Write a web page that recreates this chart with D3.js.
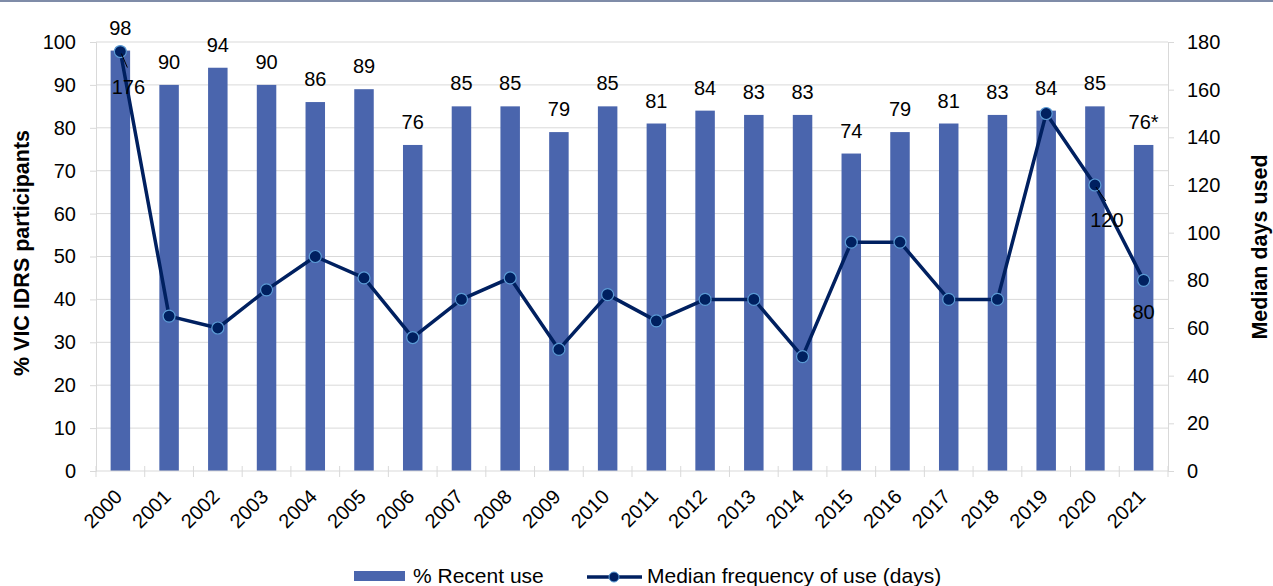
<!DOCTYPE html>
<html>
<head>
<meta charset="utf-8">
<script src="https://cdn.jsdelivr.net/npm/d3@7/dist/d3.min.js"></script>
<style>
  body { margin: 0; background: #fff; }
  svg { display: block; font-family: "Liberation Sans", Arial, sans-serif; }
</style>
</head>
<body>
<svg id="chart" width="1273" height="586"></svg>
<script>
var years = ["2000", "2001", "2002", "2003", "2004", "2005", "2006", "2007", "2008", "2009", "2010",
             "2011", "2012", "2013", "2014", "2015", "2016", "2017", "2018", "2019", "2020", "2021"];
var recentUse = [98, 90, 94, 90, 86, 89, 76, 85, 85, 79, 85, 81, 84, 83, 83, 74, 79, 81, 83, 84, 85, 76];
var medianDays = [176, 65, 60, 76, 90, 81, 56, 72, 81, 51, 74, 63, 72, 72, 48, 96, 96, 72, 72, 150, 120, 80];
var starredYears = ["2021"];
var labelledDays = ["2000", "2020", "2021"];
var leftTicks = [0, 10, 20, 30, 40, 50, 60, 70, 80, 90, 100];
var rightTicks = [0, 20, 40, 60, 80, 100, 120, 140, 160, 180];
var seriesNames = ["% Recent use", "Median frequency of use (days)"];

var barColor = "#4a65ad",
    lineColor = "#002060",
    markerEdge = "#5b9bd5",
    gridColor = "#d9d9d9";

var svg = d3.select("#chart");
var plotLeft = 96, plotRight = 1168, plotTop = 42, plotBottom = 471;

var x = d3.scaleBand().domain(years).range([plotLeft, plotRight]).paddingInner(0.6).paddingOuter(0.3);
var yL = d3.scaleLinear().domain([0, 100]).range([plotBottom, plotTop]);
var yR = d3.scaleLinear().domain([0, 180]).range([plotBottom, plotTop]);

function cx(d) { return x(d) + x.bandwidth() / 2; }

// top border
svg.append("rect").attr("x", 0).attr("y", 0).attr("width", 1273).attr("height", 2).attr("fill", "#7f8ca8");

// gridlines
svg.append("g").selectAll("line").data(leftTicks.slice(1)).enter().append("line")
    .attr("x1", plotLeft).attr("x2", plotRight)
    .attr("y1", function(d) { return yL(d); }).attr("y2", function(d) { return yL(d); })
    .attr("stroke", gridColor).attr("stroke-width", 1);

// left axis
var gl = svg.append("g").attr("transform", "translate(" + plotLeft + ",0)")
    .call(d3.axisLeft(yL).tickValues(leftTicks).tickSize(6).tickPadding(14));
gl.select(".domain").attr("stroke", gridColor);
gl.selectAll(".tick line").attr("stroke", gridColor);
gl.selectAll(".tick text").attr("font-size", 20).attr("fill", "#000");

// right axis
var gr = svg.append("g").attr("transform", "translate(" + plotRight + ",0)")
    .call(d3.axisRight(yR).tickValues(rightTicks).tickSize(6).tickPadding(13));
gr.select(".domain").attr("stroke", gridColor);
gr.selectAll(".tick line").attr("stroke", gridColor);
gr.selectAll(".tick text").attr("font-size", 20).attr("fill", "#000");

// bars
svg.append("g").selectAll("rect").data(years).enter().append("rect")
    .attr("x", function(d) { return x(d); })
    .attr("width", x.bandwidth())
    .attr("y", function(d, i) { return yL(recentUse[i]); })
    .attr("height", function(d, i) { return plotBottom - yL(recentUse[i]); })
    .attr("fill", barColor);

// category axis
svg.append("line").attr("x1", plotLeft).attr("x2", plotRight).attr("y1", plotBottom).attr("y2", plotBottom)
    .attr("stroke", gridColor);
var step = x.step();
svg.append("g").selectAll("line").data(d3.range(years.length + 1)).enter().append("line")
    .attr("x1", function(i) { return plotLeft + i * step; })
    .attr("x2", function(i) { return plotLeft + i * step; })
    .attr("y1", plotBottom - 5).attr("y2", plotBottom + 6)
    .attr("stroke", gridColor);
svg.append("g").selectAll("text").data(years).enter().append("text")
    .attr("transform", function(d) {
        return "translate(" + (cx(d) + 3) + "," + (plotBottom + 27) + ") rotate(-45)";
    })
    .attr("text-anchor", "end")
    .attr("font-size", 20)
    .text(function(d) { return d; });

// bar labels
svg.append("g").selectAll("text").data(years).enter().append("text")
    .attr("x", cx)
    .attr("y", function(d, i) { return yL(recentUse[i]) - 16; })
    .attr("text-anchor", "middle")
    .attr("font-size", 20)
    .text(function(d, i) { return recentUse[i] + (starredYears.indexOf(d) >= 0 ? "*" : ""); });

// line
var line = d3.line()
    .x(function(d, i) { return cx(years[i]); })
    .y(function(d) { return yR(d); });
svg.append("path").datum(medianDays)
    .attr("d", line)
    .attr("fill", "none")
    .attr("stroke", lineColor)
    .attr("stroke-width", 3.5)
    .attr("stroke-linejoin", "round");

svg.append("g").selectAll("circle").data(medianDays).enter().append("circle")
    .attr("cx", function(d, i) { return cx(years[i]); })
    .attr("cy", function(d) { return yR(d); })
    .attr("r", 6)
    .attr("fill", lineColor)
    .attr("stroke", markerEdge)
    .attr("stroke-width", 1.2);

// line labels (offset from the marker, with a leader line for the first two)
var labelOffset = {"2000": [8, 42, true], "2020": [12, 42, true], "2021": [0, 39, false]};
labelledDays.forEach(function(yr) {
    var i = years.indexOf(yr),
        px = cx(yr),
        py = yR(medianDays[i]),
        off = labelOffset[yr];
    if (off[2]) {
        svg.append("line")
            .attr("x1", px + 1).attr("y1", py + 2)
            .attr("x2", px + off[0] - 1).attr("y2", py + off[1] - 26)
            .attr("stroke", "#000").attr("stroke-width", 1);
    }
    svg.append("text")
        .attr("x", px + off[0]).attr("y", py + off[1])
        .attr("text-anchor", "middle")
        .attr("font-size", 20)
        .text(medianDays[i]);
});

// axis titles
svg.append("text")
    .attr("transform", "translate(29,253) rotate(-90)")
    .attr("text-anchor", "middle")
    .attr("font-size", 21.5).attr("font-weight", "bold")
    .text("% VIC IDRS participants");
svg.append("text")
    .attr("transform", "translate(1267,247) rotate(-90)")
    .attr("text-anchor", "middle")
    .attr("font-size", 21.5).attr("font-weight", "bold")
    .text("Median days used");

// legend
var lg = svg.append("g");
lg.append("rect").attr("x", 354).attr("y", 571).attr("width", 51).attr("height", 10).attr("fill", barColor);
lg.append("text").attr("x", 413).attr("y", 583).attr("font-size", 21).text(seriesNames[0]);
lg.append("line").attr("x1", 587).attr("x2", 642).attr("y1", 577).attr("y2", 577)
    .attr("stroke", lineColor).attr("stroke-width", 3.5);
lg.append("circle").attr("cx", 614).attr("cy", 577).attr("r", 5)
    .attr("fill", lineColor).attr("stroke", markerEdge).attr("stroke-width", 1);
lg.append("text").attr("x", 647).attr("y", 583).attr("font-size", 21).text(seriesNames[1]);
</script>
</body>
</html>
